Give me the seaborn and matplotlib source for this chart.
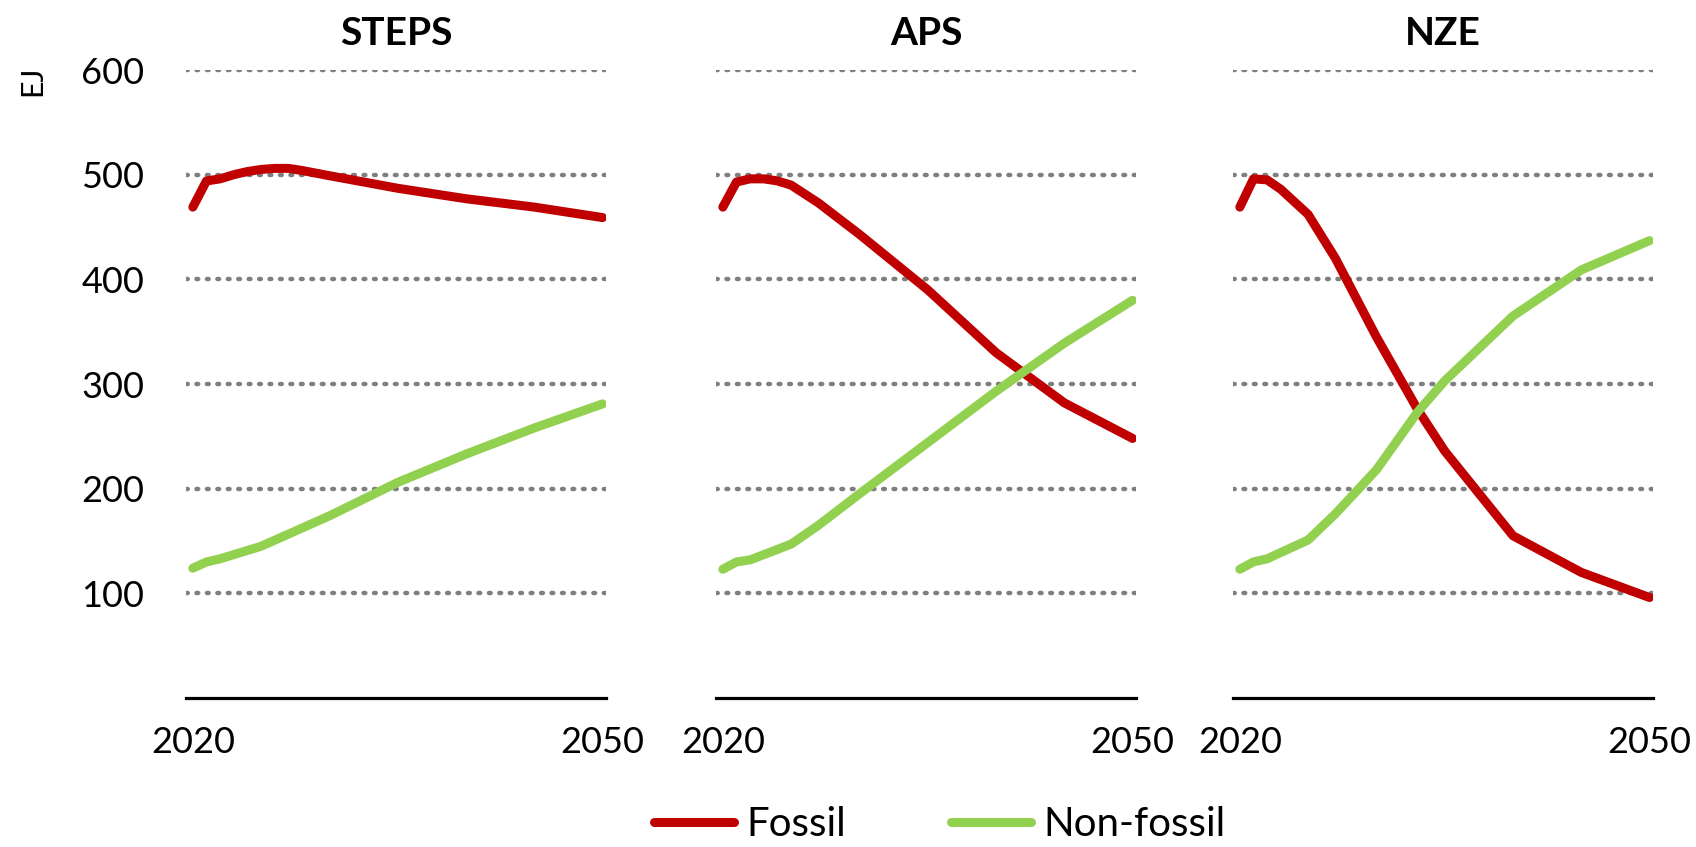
import matplotlib
matplotlib.use("Agg")
import matplotlib.pyplot as plt
import seaborn as sns
import pandas as pd

scenarios = ["STEPS", "APS", "NZE"]
series_names = ["Fossil", "Non-fossil"]
x_ticks = [2020, 2050]
y_ticks = [100, 200, 300, 400, 500, 600]

steps_fossil_years = [2020, 2021, 2022, 2023, 2024, 2025, 2026, 2027, 2028, 2030, 2035, 2040, 2045, 2050]
steps_fossil = [469, 494, 496, 500, 503, 505, 506, 506, 504, 499, 487, 477, 469, 459]
steps_nonfossil_years = [2020, 2021, 2022, 2025, 2030, 2035, 2040, 2045, 2050]
steps_nonfossil = [124, 130, 133, 145, 174, 206, 233, 258, 281]

aps_fossil_years = [2020, 2021, 2022, 2023, 2024, 2025, 2027, 2030, 2035, 2040, 2045, 2050]
aps_fossil = [469, 493, 496, 496, 494, 490, 473, 443, 390, 330, 282, 248]
aps_nonfossil_years = [2020, 2021, 2022, 2025, 2027, 2030, 2035, 2040, 2045, 2050]
aps_nonfossil = [123, 130, 132, 147, 165, 195, 244, 293, 339, 380]

nze_fossil_years = [2020, 2021, 2022, 2023, 2025, 2027, 2030, 2033, 2035, 2040, 2045, 2050]
nze_fossil = [469, 496, 495, 486, 462, 420, 345, 276, 236, 155, 120, 96]
nze_nonfossil_years = [2020, 2021, 2022, 2025, 2027, 2030, 2033, 2035, 2040, 2045, 2050]
nze_nonfossil = [123, 130, 133, 151, 176, 218, 273, 303, 365, 409, 437]

data = {
    "STEPS": [(steps_fossil_years, steps_fossil), (steps_nonfossil_years, steps_nonfossil)],
    "APS": [(aps_fossil_years, aps_fossil), (aps_nonfossil_years, aps_nonfossil)],
    "NZE": [(nze_fossil_years, nze_fossil), (nze_nonfossil_years, nze_nonfossil)],
}

rows = []
for sc in scenarios:
    for name, (yrs, vals) in zip(series_names, data[sc]):
        for y, v in zip(yrs, vals):
            rows.append({"scenario": sc, "series": name, "year": y, "value": v})
df = pd.DataFrame(rows)

sns.set_theme(style="white")
plt.rcParams["font.family"] = ["Lato", "DejaVu Sans"]

palette = {"Fossil": "#C00000", "Non-fossil": "#92D050"}

W, H = 1696, 847
fig = plt.figure(figsize=(W / 100, H / 100), dpi=100)

lefts = [186, 716, 1233]
width = 420
top_px, bottom_px = 70, 698

axes = []
for i, sc in enumerate(scenarios):
    ax = fig.add_axes([lefts[i] / W, (H - bottom_px) / H, width / W, (bottom_px - top_px) / H])
    axes.append(ax)
    for yv in y_ticks:
        ax.axhline(yv, color="#7F7F7F", lw=3.2, ls=(0, (0.4, 1.95)), dash_capstyle="round", zorder=1)
    sns.lineplot(data=df[df.scenario == sc], x="year", y="value", hue="series",
                 palette=palette, hue_order=series_names, linewidth=6.5, ax=ax,
                 legend=(i == 0), zorder=3, solid_capstyle="round", solid_joinstyle="round")
    ax.set_xlim(2019.5, 2050.25)
    ax.set_ylim(0, 600)
    ax.set_xticks(x_ticks)
    ax.set_xticklabels([str(t) for t in x_ticks], fontsize=26, color="black")
    ax.set_yticks(y_ticks)
    if i == 0:
        ax.set_yticklabels([str(t) for t in y_ticks], fontsize=26, color="black")
    else:
        ax.set_yticklabels([])
    ax.tick_params(axis="both", length=0)
    ax.tick_params(axis="x", pad=20)
    ax.tick_params(axis="y", pad=30)
    ax.set_xlabel("")
    ax.set_ylabel("")
    for s in ["top", "left", "right"]:
        ax.spines[s].set_visible(False)
    ax.spines["bottom"].set_color("black")
    ax.spines["bottom"].set_linewidth(2.3)
    ax.set_title(sc, fontsize=28, fontweight="bold", pad=18, color="black")
    ax.grid(False)

handles, labels = axes[0].get_legend_handles_labels()
axes[0].get_legend().remove()
fig.legend(handles, labels, loc="center", bbox_to_anchor=(0.554, 0.026), ncol=2,
           frameon=False, fontsize=29, handlelength=2.0, handletextpad=0.3,
           columnspacing=2.6, labelcolor="black")

fig.text(32 / W, 1 - 81 / H, "EJ", rotation=90, ha="center", va="center", fontsize=22, color="black")

fig.savefig("out.png", dpi=100)
